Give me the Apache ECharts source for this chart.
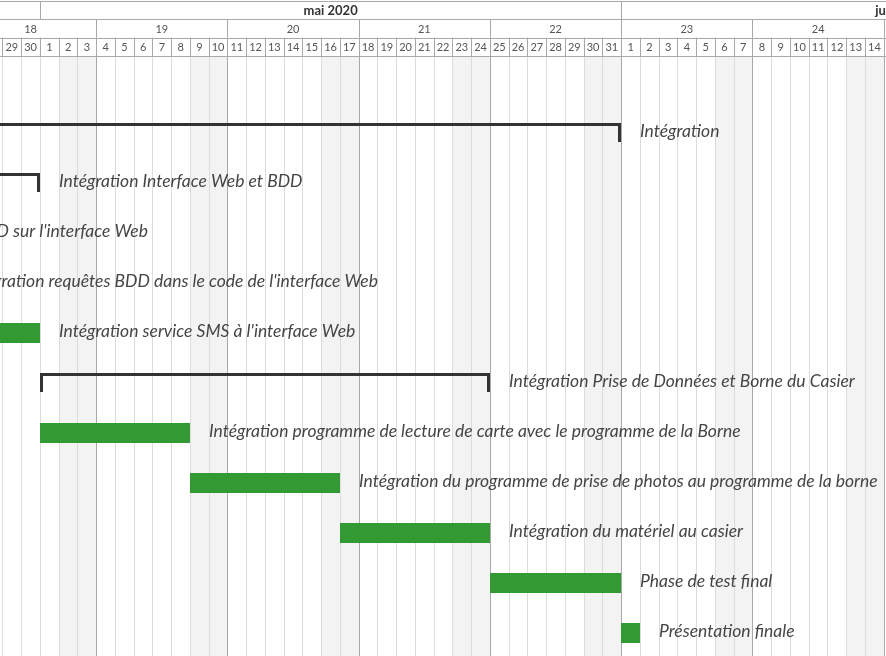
<!DOCTYPE html>
<html><head><meta charset="utf-8">
<script src="https://cdn.jsdelivr.net/npm/echarts/dist/echarts.min.js"></script>
<style>html,body{margin:0;padding:0;background:#fff}#c{width:886px;height:656px}</style>
</head><body><div id="c"></div>
<script>
// ---- data ----
const originDate = '2020-05-01';            // day 0
const viewStartDay = -2.1333;               // visible range (days from origin)
const viewEndDay = 45.12;
const firstGridDay = '2020-04-20';
const lastGridDay = '2020-06-20';
const weekNumbers = [17, 18, 19, 20, 21, 22, 23, 24, 25];
const weekStarts = ['2020-04-20', '2020-04-27', '2020-05-04', '2020-05-11', '2020-05-18', '2020-05-25', '2020-06-01', '2020-06-08', '2020-06-15'];
const monthLabels = ['avr. 2020', 'mai 2020', 'juin 2020'];
const monthStarts = ['2020-04-01', '2020-05-01', '2020-06-01'];
const monthEnds = ['2020-04-30', '2020-05-31', '2020-06-30'];

const taskNames = ['',
  'Intégration',
  'Intégration Interface Web et BDD',
  "Intégration BDD sur l'interface Web",
  "Intégration requêtes BDD dans le code de l'interface Web",
  "Intégration service SMS à l'interface Web",
  'Intégration Prise de Données et Borne du Casier',
  'Intégration programme de lecture de carte avec le programme de la Borne',
  'Intégration du programme de prise de photos au programme de la borne',
  'Intégration du matériel au casier',
  'Phase de test final',
  'Présentation finale'];
const taskStarts = [null, '2020-04-06', '2020-04-06', '2020-04-06', '2020-04-22', '2020-04-26', '2020-05-01', '2020-05-01', '2020-05-09', '2020-05-17', '2020-05-25', '2020-06-01'];
const taskEnds   = [null, '2020-05-31', '2020-04-30', '2020-04-21', '2020-04-25', '2020-04-30', '2020-05-24', '2020-05-08', '2020-05-16', '2020-05-24', '2020-05-31', '2020-06-01'];
const taskKinds  = [null, 'summary', 'summary', 'task', 'task', 'task', 'summary', 'task', 'task', 'task', 'task', 'task'];

// ---- helpers ----
const DAY = 86400000;
const t0 = Date.parse(originDate + 'T00:00:00Z');
const dIdx = s => Math.round((Date.parse(s + 'T00:00:00Z') - t0) / DAY);

const dayData = [];
for (let d = dIdx(firstGridDay); d <= dIdx(lastGridDay); d++) {
  const dt = new Date(t0 + d * DAY);
  const wd = dt.getUTCDay();
  dayData.push([d, (wd === 0 || wd === 6) ? 1 : 0, wd === 1 ? 1 : 0, dt.getUTCDate()]);
}
const weekData = weekNumbers.map((w, i) => [dIdx(weekStarts[i]), dIdx(weekStarts[i]) + 7, w]);
const monthData = monthLabels.map((m, i) => [dIdx(monthStarts[i]), dIdx(monthEnds[i]) + 1, i]);
const taskData = [];
taskNames.forEach((n, i) => {
  if (!taskStarts[i]) return;
  taskData.push({ value: [dIdx(taskStarts[i]), dIdx(taskEnds[i]) + 1, i, taskKinds[i] === 'summary' ? 1 : 0], name: n });
});

const px = v => Math.round(v) + 0.5;
const textFont = 'Lato, "DejaVu Sans", sans-serif';

const chart = echarts.init(document.getElementById('c'), null, { renderer: 'canvas' });
chart.setOption({
  animation: false,
  backgroundColor: '#ffffff',
  grid: [
    { left: 0, right: 0, top: 56, bottom: 0 },
    { left: 0, right: 0, top: 1, height: 55 }
  ],
  xAxis: [
    { type: 'value', min: viewStartDay, max: viewEndDay, show: false, gridIndex: 0 },
    { type: 'value', min: viewStartDay, max: viewEndDay, show: false, gridIndex: 1 }
  ],
  yAxis: [
    { type: 'category', data: taskNames.map((n, i) => 'r' + i), inverse: true, show: false, gridIndex: 0 },
    { type: 'value', min: 0, max: 3, inverse: true, show: false, gridIndex: 1 }
  ],
  series: [
    { // day grid + weekend shading
      type: 'custom', xAxisIndex: 0, yAxisIndex: 0, silent: true, clip: true, z: 1,
      data: dayData,
      renderItem(params, api) {
        const cs = params.coordSys;
        const x0 = api.coord([api.value(0), 0])[0];
        const x1 = api.coord([api.value(0) + 1, 0])[0];
        const ch = [];
        if (api.value(1)) ch.push({ type: 'rect', shape: { x: Math.round(x0), y: cs.y, width: Math.round(x1) - Math.round(x0), height: cs.height }, style: { fill: '#f3f3f3' } });
        ch.push({ type: 'line', shape: { x1: px(x0), y1: cs.y, x2: px(x0), y2: cs.y + cs.height }, style: { stroke: api.value(2) ? '#a8a8a8' : '#dcdcdc', lineWidth: 1 } });
        return { type: 'group', children: ch };
      }
    },
    { // tasks
      type: 'custom', xAxisIndex: 0, yAxisIndex: 0, silent: true, clip: false, z: 5,
      data: taskData,
      renderItem(params, api) {
        const p0 = api.coord([api.value(0), api.value(2)]);
        const p1 = api.coord([api.value(1), api.value(2)]);
        const yc = p0[1];
        const xa = Math.round(p0[0]), xb = Math.round(p1[0]);
        const ch = [];
        if (api.value(3) === 1) {
          ch.push({ type: 'rect', shape: { x: xa, y: yc - 8, width: xb - xa, height: 3 }, style: { fill: '#333333' } });
          ch.push({ type: 'rect', shape: { x: xa, y: yc - 8, width: 3, height: 19 }, style: { fill: '#333333' } });
          ch.push({ type: 'rect', shape: { x: xb - 3, y: yc - 8, width: 3, height: 19 }, style: { fill: '#333333' } });
        } else {
          ch.push({ type: 'rect', shape: { x: xa, y: yc - 8, width: xb - xa, height: 20 }, style: { fill: '#339933' } });
        }
        ch.push({ type: 'text', style: { x: xb + 19, y: yc + 0.5, text: taskNames[api.value(2)], fill: '#454545', fontFamily: textFont, fontStyle: 'italic', fontSize: 17.5, align: 'left', verticalAlign: 'middle' } });
        return { type: 'group', children: ch };
      }
    },
    { // header: day row
      type: 'custom', xAxisIndex: 1, yAxisIndex: 1, silent: true, clip: true, z: 3,
      data: dayData,
      renderItem(params, api) {
        const a = api.coord([api.value(0), 2]);
        const b = api.coord([api.value(0) + 1, 3]);
        return { type: 'group', children: [
          { type: 'line', shape: { x1: px(a[0]), y1: a[1], x2: px(a[0]), y2: b[1] }, style: { stroke: '#a8a8a8', lineWidth: 1 } },
          { type: 'text', style: { x: (a[0] + b[0]) / 2, y: (a[1] + b[1]) / 2 + 1, text: String(api.value(3)), fill: '#555', fontFamily: textFont, fontSize: 11, align: 'center', verticalAlign: 'middle' } }
        ] };
      }
    },
    { // header: week row
      type: 'custom', xAxisIndex: 1, yAxisIndex: 1, silent: true, clip: true, z: 3,
      data: weekData,
      renderItem(params, api) {
        const a = api.coord([api.value(0), 1]);
        const b = api.coord([api.value(1), 2]);
        return { type: 'group', children: [
          { type: 'line', shape: { x1: px(a[0]), y1: a[1], x2: px(a[0]), y2: b[1] }, style: { stroke: '#a8a8a8', lineWidth: 1 } },
          { type: 'text', style: { x: (a[0] + b[0]) / 2, y: (a[1] + b[1]) / 2 + 1, text: String(api.value(2)), fill: '#555', fontFamily: textFont, fontSize: 11, align: 'center', verticalAlign: 'middle' } }
        ] };
      }
    },
    { // header: month row
      type: 'custom', xAxisIndex: 1, yAxisIndex: 1, silent: true, clip: true, z: 3,
      data: monthData,
      renderItem(params, api) {
        const a = api.coord([api.value(0), 0]);
        const b = api.coord([api.value(1), 1]);
        return { type: 'group', children: [
          { type: 'line', shape: { x1: px(a[0]), y1: a[1], x2: px(a[0]), y2: b[1] }, style: { stroke: '#a8a8a8', lineWidth: 1 } },
          { type: 'text', style: { x: (a[0] + b[0]) / 2, y: (a[1] + b[1]) / 2 + 1, text: monthLabels[api.value(2)], fill: '#333', fontFamily: textFont, fontWeight: 'bold', fontSize: 13, align: 'center', verticalAlign: 'middle' } }
        ] };
      }
    },
    { // header: horizontal rules
      type: 'custom', xAxisIndex: 1, yAxisIndex: 1, silent: true, clip: false, z: 3,
      data: [[0], [1], [2], [3]],
      renderItem(params, api) {
        const cs = params.coordSys;
        const y = px(api.coord([0, api.value(0)])[1]);
        return { type: 'line', shape: { x1: 0, y1: y, x2: cs.x + cs.width, y2: y }, style: { stroke: '#a8a8a8', lineWidth: 1 } };
      }
    }
  ]
});
</script></body></html>
